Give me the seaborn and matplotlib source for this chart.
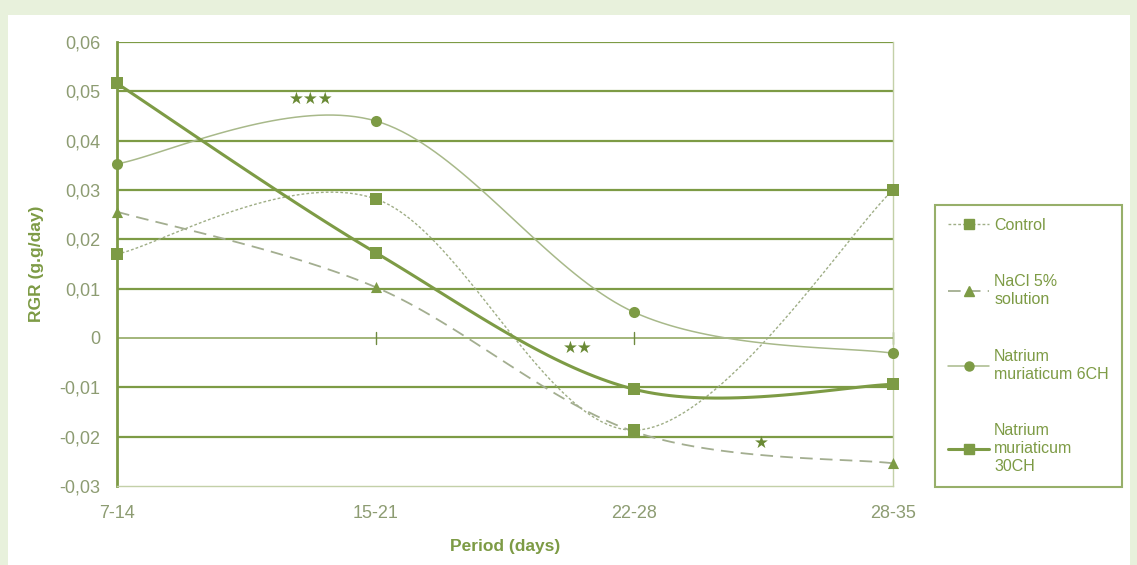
import matplotlib
matplotlib.use('Agg')
import matplotlib.pyplot as plt
from matplotlib.lines import Line2D
from matplotlib.patches import Rectangle
import numpy as np
import seaborn as sns

# data
periods = ['7-14', '15-21', '22-28', '28-35']
control = [0.0170, 0.0282, -0.0187, 0.0300]
nacl = [0.0256, 0.0103, -0.0190, -0.0254]
nat_6ch = [0.0353, 0.0440, 0.0052, -0.0031]
nat_30ch = [0.0516, 0.0173, -0.0104, -0.0094]
stars = ['★★★', '★★', '★']
star_x = [0.75, 1.78, 2.49]
star_y = [0.0485, -0.0021, -0.0212]

GREEN = '#7d9b45'
TICK = '#8d9c72'


def smooth(xs, ys, n=40):
    # excel-like smoothed line (bezier through the points)
    pts = np.column_stack([xs, ys]).astype(float)
    out = []
    for i in range(len(pts) - 1):
        p0 = pts[max(i - 1, 0)]
        p1 = pts[i]
        p2 = pts[i + 1]
        p3 = pts[min(i + 2, len(pts) - 1)]
        c1 = p1 + (p2 - p0) / 6
        c2 = p2 - (p3 - p1) / 6
        t = np.linspace(0, 1, n)[:, None]
        seg = (1 - t) ** 3 * p1 + 3 * (1 - t) ** 2 * t * c1 + 3 * (1 - t) * t ** 2 * c2 + t ** 3 * p2
        out.append(seg if i == 0 else seg[1:])
    out = np.vstack(out)
    return out[:, 0], out[:, 1]


sns.set_style('white')
plt.rcParams['font.family'] = ['Liberation Sans', 'DejaVu Sans']

fig = plt.figure(figsize=(11.37, 5.65), dpi=100, facecolor='#e8f1dc')
fig.patches.append(Rectangle((8 / 1137, 0), 1122 / 1137, 550 / 565, transform=fig.transFigure,
                             facecolor='white', edgecolor='none', zorder=-5))
ax = fig.add_axes([117 / 1137, 1 - 486 / 565, 776 / 1137, 444 / 565])
ax.set_facecolor('none')

xpos = np.arange(len(periods))
series = [
    ('Control', control, (0, (2, 1.5)), 1.0, '#9fae86', 's', 8),
    ('NaCl 5%\nsolution', nacl, (0, (7, 4)), 1.3, '#a3ae90', '^', 8),
    ('Natrium\nmuriaticum 6CH', nat_6ch, '-', 1.1, '#a8b98a', 'o', 8),
    ('Natrium\nmuriaticum\n30CH', nat_30ch, '-', 2.2, GREEN, 's', 8),
]

handles = []
for name, vals, ls, lw, col, mk, ms in series:
    sx, sy = smooth(xpos, vals)
    ax.plot(sx, sy, linestyle=ls, linewidth=lw, color=col, zorder=3, clip_on=False)
    sns.scatterplot(x=xpos, y=vals, marker=mk, s=ms ** 2, color=GREEN, edgecolor=GREEN,
                    linewidth=0, ax=ax, zorder=4, legend=False, clip_on=False)
    handles.append(Line2D([0], [0], linestyle=ls, linewidth=lw, color=col if lw < 2 else GREEN,
                          marker=mk, markersize=6.5, markerfacecolor=GREEN, markeredgecolor=GREEN))

ax.set_xlim(0, 3)
ax.set_ylim(-0.03, 0.06)
yt = np.arange(-0.03, 0.0601, 0.01)
ax.set_yticks(yt)
ax.set_yticklabels(['0' if abs(v) < 1e-9 else f'{v:.2f}'.replace('.', ',') for v in yt])
ax.set_xticks(xpos)
ax.set_xticklabels(periods)
ax.tick_params(axis='y', colors=GREEN, labelcolor=TICK, labelsize=13, length=5, width=1.5, pad=7)
ax.tick_params(axis='x', length=0, labelcolor=TICK, labelsize=13, pad=14)

for v in yt[1:]:
    if abs(v) > 1e-9:
        ax.axhline(v, color=GREEN, linewidth=1.6, zorder=1)
ax.axhline(0, color='#9bb070', linewidth=1.3, zorder=1)
for xp in xpos[1:]:
    ax.plot([xp, xp], [-0.0012, 0.0012], color='#6f8a40', linewidth=1, zorder=2, clip_on=False)

ax.spines['top'].set_visible(False)
ax.spines['left'].set_color(GREEN)
ax.spines['left'].set_linewidth(2)
ax.spines['right'].set_color('#c3d0a8')
ax.spines['right'].set_linewidth(1)
ax.spines['bottom'].set_color('#c3d0a8')
ax.spines['bottom'].set_linewidth(1)

for s, x, y in zip(stars, star_x, star_y):
    ax.text(x, y, s, ha='center', va='center', color='#6a8a35', fontsize=12,
            family=['DejaVu Sans'])

ax.set_ylabel('RGR (g.g/day)', color=GREEN, fontsize=12.5, fontweight='bold', labelpad=11)
ax.set_xlabel('Period (days)', color=GREEN, fontsize=12.5, fontweight='bold', labelpad=12)

leg = fig.legend(handles, [s[0] for s in series], loc='upper left',
                 bbox_to_anchor=(935 / 1137, 1 - 205 / 565), frameon=True, fancybox=False,
                 fontsize=11.5, labelspacing=2.6, handlelength=2.6, handletextpad=0.3,
                 borderpad=0.8, borderaxespad=0)
leg.get_frame().set_edgecolor(GREEN)
leg.get_frame().set_linewidth(1.5)
for t in leg.get_texts():
    t.set_color(GREEN)
    t.set_linespacing(1.25)

plt.savefig('out.png', dpi=100, facecolor=fig.get_facecolor())
